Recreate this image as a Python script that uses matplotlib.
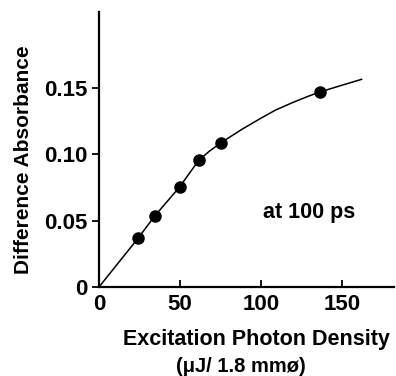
import numpy as np
from matplotlib import pyplot as plt

# measured points
density = [24.1, 34.4, 49.7, 61.5, 75.3, 136.6]
absorbance = [0.0367, 0.0535, 0.0753, 0.0954, 0.1087, 0.147]

# drawn curve
curve_x = [0, 12, 24.1, 34.4, 49.7, 61.5, 68, 75.3, 88.5, 100, 109, 120, 129.4, 136.6, 150, 162]
curve_y = [0, 0.0183, 0.0367, 0.0535, 0.0753, 0.0954, 0.1022, 0.1087, 0.119, 0.1272,
           0.1333, 0.1392, 0.1438, 0.147, 0.152, 0.1564]

x_ticks = [0, 50, 100, 150]
x_tick_labels = ['0', '50', '100', '150']
y_ticks = [0, 0.05, 0.10, 0.15]
y_tick_labels = ['0', '0.05', '0.10', '0.15']

plt.rcParams['font.family'] = ['Liberation Sans', 'DejaVu Sans']
plt.rcParams['font.weight'] = 'bold'

fig = plt.figure(figsize=(3.96, 3.76), dpi=100)
ax = fig.add_axes([0.25, 0.2367, 0.745, 0.731])

ax.plot(curve_x, curve_y, color='black', linewidth=1.1)
ax.plot(density, absorbance, 'o', color='black', markersize=8)

ax.set_xlim(0, 182)
ax.set_ylim(0, 0.207)
ax.spines['top'].set_visible(False)
ax.spines['right'].set_visible(False)
for s in ['left', 'bottom']:
    ax.spines[s].set_linewidth(1.6)

ax.set_xticks(x_ticks)
ax.set_xticklabels(x_tick_labels, fontsize=16)
ax.set_yticks(y_ticks)
ax.set_yticklabels(y_tick_labels, fontsize=16)
ax.tick_params(axis='x', direction='in', length=5, width=1.3, pad=5)
ax.tick_params(axis='y', direction='out', length=5, width=1.3, pad=3)

ax.text(129.4, 0.056, 'at 100 ps', fontsize=15.5, ha='center', va='center')

ax.set_ylabel('Difference Absorbance', fontsize=15, fontweight='bold', va='center')
ax.yaxis.set_label_coords(-0.256, 0.462)
fig.text(256 / 396, 1 - 340 / 376, 'Excitation Photon Density', fontsize=15.5,
         ha='center', va='center')
fig.text(241 / 396, 1 - 366 / 376, '(\u03bcJ/ 1.8 mm\u00f8)', fontsize=14.5,
         ha='center', va='center')

fig.savefig('out.png', dpi=100)
